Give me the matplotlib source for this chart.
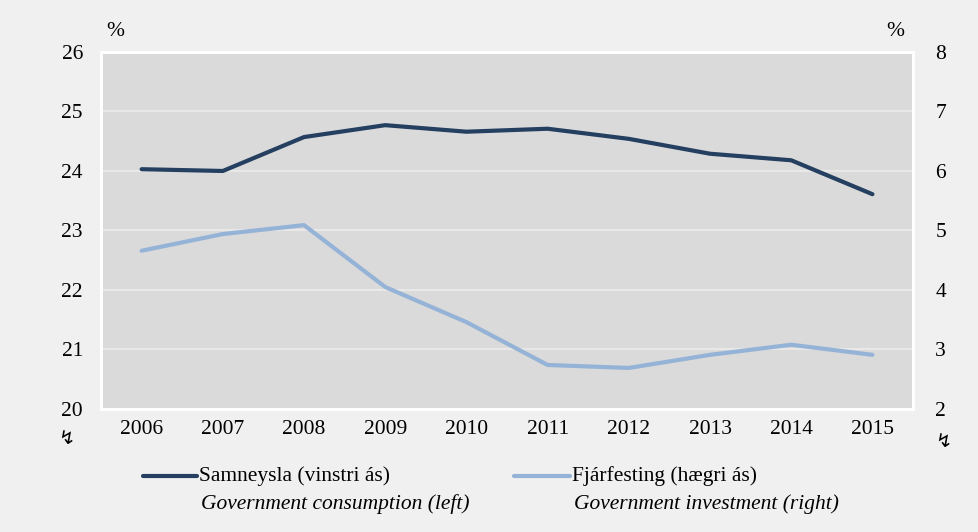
import numpy as np
import matplotlib.pyplot as plt

plt.rcParams['font.family'] = ['Liberation Serif', 'DejaVu Serif']

# --- gögn ---
years = ['2006', '2007', '2008', '2009', '2010', '2011', '2012', '2013', '2014', '2015']
samneysla = [24.03, 24.00, 24.57, 24.77, 24.66, 24.71, 24.54, 24.29, 24.18, 23.61]
fjarfesting = [4.66, 4.94, 5.09, 4.05, 3.46, 2.74, 2.69, 2.91, 3.08, 2.91]
left_ticks = [20, 21, 22, 23, 24, 25, 26]
right_ticks = [2, 3, 4, 5, 6, 7, 8]

dark = '#243f60'
light = '#95b3d7'
fs = 15.5

fig = plt.figure(figsize=(9.79, 5.32), dpi=100, facecolor='#f0f0f0')
ax = fig.add_axes([0.1032, 0.2312, 0.8294, 0.6711])
ax.set_facecolor('#dadada')
ax2 = ax.twinx()

x = np.arange(len(years))
ax.plot(x, samneysla, color=dark, lw=3, solid_capstyle='round', zorder=3)
ax2.plot(x, fjarfesting, color=light, lw=3, solid_capstyle='round', zorder=3)

ax.set_xlim(-0.5, len(years) - 0.5)
ax.set_ylim(20, 26)
ax2.set_ylim(2, 8)
ax.set_yticks(left_ticks)
ax2.set_yticks(right_ticks)
ax.set_xticks(x)
ax.set_xticklabels(years)

ax.grid(axis='y', color='#ebebeb', lw=1.2)
ax.set_axisbelow(True)

for a in (ax, ax2):
    for s in a.spines.values():
        s.set_color('white')
        s.set_linewidth(2)
    a.tick_params(length=0, labelsize=fs)
ax.tick_params(axis='y', pad=13)
ax2.tick_params(axis='y', pad=16)
ax.tick_params(axis='x', pad=8)

fig.text(115 / 979, 1 - 32 / 532, '%', fontsize=fs, ha='center', va='center')
fig.text(895 / 979, 1 - 32 / 532, '%', fontsize=fs, ha='center', va='center')

# ás-rof merki
fig.text(66 / 979, 1 - 438 / 532, '\u21af', fontsize=14, ha='center', va='center',
         family=['DejaVu Sans'])
fig.text(943 / 979, 1 - 441 / 532, '\u21af', fontsize=14, ha='center', va='center',
         family=['DejaVu Sans'])

# skýringar
fig.add_artist(plt.Line2D([143 / 979, 197 / 979], [1 - 476 / 532] * 2, color=dark,
                          lw=3, solid_capstyle='round'))
fig.add_artist(plt.Line2D([514 / 979, 570 / 979], [1 - 476 / 532] * 2, color=light,
                          lw=3, solid_capstyle='round'))
fig.text(199 / 979, 1 - 476 / 532, 'Samneysla (vinstri ás)', fontsize=fs, va='center')
fig.text(201 / 979, 1 - 504 / 532, 'Government consumption (left)', fontsize=fs,
         va='center', style='italic')
fig.text(572 / 979, 1 - 476 / 532, 'Fjárfesting (hægri ás)', fontsize=fs, va='center')
fig.text(574 / 979, 1 - 504 / 532, 'Government investment (right)', fontsize=fs,
         va='center', style='italic')

fig.savefig('out.png', dpi=100, facecolor=fig.get_facecolor())
